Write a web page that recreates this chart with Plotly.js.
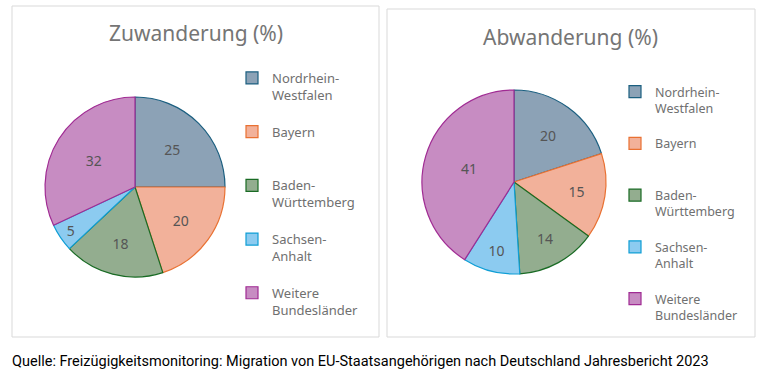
<!DOCTYPE html>
<html><head><meta charset="utf-8">
<script src="https://cdn.plot.ly/plotly-3.0.1.min.js"></script>
<style>html,body{margin:0;padding:0;background:#fff;}#chart{width:765px;height:377px;}</style>
</head><body><div id="chart"></div>
<script>
const categories = ["Nordrhein-<br>Westfalen<br> ", "Bayern<br> <br> ", "Baden-<br>Württemberg<br> ", "Sachsen-<br>Anhalt<br> ", "Weitere<br>Bundesländer"];
const zuwanderung = [25, 20, 18, 5, 32];
const abwanderung = [20, 15, 14, 10, 41];
const fillColors = ["#8ca2b6", "#f2b19a", "#93ad8f", "#8ccbf0", "#c78cc2"];
const lineColors = ["#1b5f80", "#e97132", "#196b24", "#0f9ed5", "#a02b93"];
const titles = ["Zuwanderung (%)", "Abwanderung (%)"];
const source = "Quelle: Freizügigkeitsmonitoring: Migration von EU-Staatsangehörigen nach Deutschland Jahresbericht 2023";

const W = 765, H = 377;
const px = v => v / W, py = v => 1 - v / H;

function pieTrace(values, labels, dom, legendId) {
  return {
    type: "pie", values: values, labels: labels, sort: false, direction: "clockwise", rotation: 0,
    marker: {colors: fillColors, line: {color: lineColors, width: 1.2}},
    textinfo: "value", textposition: "inside", insidetextorientation: "horizontal",
    textfont: {family: "Noto Sans, sans-serif", size: 14, color: "#555555"},
    domain: dom, legend: legendId, hoverinfo: "label+value"
  };
}

const data = [
  pieTrace(zuwanderung, categories, {x: [px(45), px(225)], y: [py(277), py(97)]}, "legend"),
  pieTrace(abwanderung, categories.map(c => c + "\u200b"), {x: [px(422), px(606)], y: [py(274), py(90)]}, "legend2")
];

const legendBase = {
  font: {family: "Noto Sans, sans-serif", size: 13, color: "#707070"},
  valign: "top", bgcolor: "rgba(0,0,0,0)", xanchor: "left", yanchor: "top",
  itemclick: false, itemdoubleclick: false
};

const layout = {
  width: W, height: H, margin: {l: 0, r: 0, t: 0, b: 0},
  paper_bgcolor: "#fff", plot_bgcolor: "#fff",
  showlegend: true,
  legend: Object.assign({}, legendBase, {x: px(232), y: py(63)}),
  legend2: Object.assign({}, legendBase, {x: px(615), y: py(77),
    font: {family: "Noto Sans, sans-serif", size: 12.5, color: "#707070"}}),
  shapes: [
    {type: "rect", xref: "paper", yref: "paper", x0: px(12), x1: px(379), y0: py(337), y1: py(6), line: {color: "#d9d9d9", width: 1}},
    {type: "rect", xref: "paper", yref: "paper", x0: px(387), x1: px(755), y0: py(337), y1: py(9), line: {color: "#d9d9d9", width: 1}}
  ],
  annotations: [
    {text: titles[0], xref: "paper", yref: "paper", x: px(196), y: py(33), xanchor: "center", yanchor: "middle", showarrow: false,
     font: {family: "Noto Sans, sans-serif", size: 21, color: "#757575"}},
    {text: titles[1], xref: "paper", yref: "paper", x: px(570), y: py(37), xanchor: "center", yanchor: "middle", showarrow: false,
     font: {family: "Noto Sans, sans-serif", size: 21, color: "#757575"}},
    {text: source, xref: "paper", yref: "paper", x: px(10), y: py(361), xanchor: "left", yanchor: "middle", showarrow: false,
     font: {family: "Roboto, sans-serif", size: 14.5, color: "#000"}}
  ]
};

Plotly.newPlot("chart", data, layout, {displayModeBar: false, staticPlot: true});
</script></body></html>
